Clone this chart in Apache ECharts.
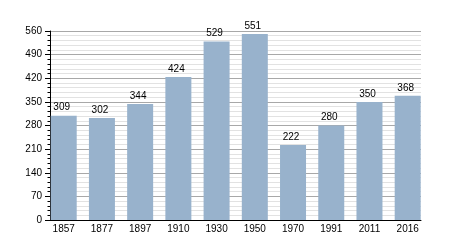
<!DOCTYPE html>
<html>
<head>
<meta charset="utf-8">
<script src="https://cdn.jsdelivr.net/npm/echarts@6/dist/echarts.min.js"></script>
<style>html,body{margin:0;padding:0;background:#fff;}#c{width:450px;height:250px;}</style>
</head>
<body>
<div id="c"></div>
<script>
const years = ['1857','1877','1897','1910','1930','1950','1970','1991','2011','2016'];
const population = [309, 302, 344, 424, 529, 551, 222, 280, 350, 368];
const yMin = 0, yMax = 560, yStep = 70;

const chart = echarts.init(document.getElementById('c'), null, {renderer: 'canvas'});
const font = 'Liberation Sans, Arial, sans-serif';
chart.setOption({
  animation: false,
  backgroundColor: '#fff',
  grid: [
    {left: 44.6, right: 23.2, top: 31, bottom: 30},
    {left: 50, right: 29, top: 31, bottom: 30}
  ],
  xAxis: [
    {gridIndex: 0, type: 'category', data: years,
     axisLine: {show: false}, axisTick: {show: false},
     axisLabel: {fontFamily: font, fontSize: 10, color: '#000', margin: 4}},
    {gridIndex: 1, type: 'category', data: years,
     axisLine: {show: true, lineStyle: {color: '#000', width: 1}},
     axisTick: {show: false}, axisLabel: {show: false}}
  ],
  yAxis: [
    {gridIndex: 0, type: 'value', min: yMin, max: yMax, interval: yStep, show: false, splitLine: {show: false}},
    {gridIndex: 1, type: 'value', min: yMin, max: yMax, interval: yStep,
     axisLine: {show: true, lineStyle: {color: '#000', width: 1}},
     axisTick: {show: true, length: 5, lineStyle: {color: '#000'}},
     minorTick: {show: true, splitNumber: 5, length: 2.5, lineStyle: {color: '#000'}},
     splitLine: {show: true, lineStyle: {color: '#a8a8a8', width: 1}},
     minorSplitLine: {show: true, lineStyle: {color: '#e2e2e2', width: 1}},
     axisLabel: {fontFamily: font, fontSize: 10, color: '#000', margin: 8}}
  ],
  series: [{
    type: 'bar', xAxisIndex: 0, yAxisIndex: 0,
    data: population, barWidth: 26,
    itemStyle: {color: '#98b2cc'},
    label: {show: true, position: 'top', distance: 3, offset: [-2, 0],
            fontFamily: font, fontSize: 10, color: '#000'}
  }]
});
</script>
</body>
</html>
